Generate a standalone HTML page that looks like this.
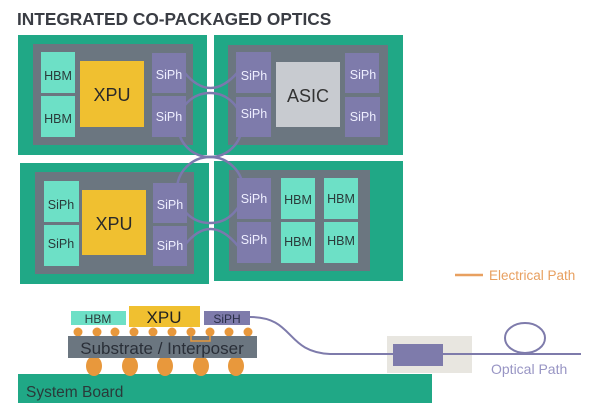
<!DOCTYPE html>
<html><head><meta charset="utf-8"><style>
body{margin:0;background:#fff;}
svg{display:block;font-family:"Liberation Sans",sans-serif;}
</style></head><body>
<svg width="607" height="403" viewBox="0 0 607 403" xmlns="http://www.w3.org/2000/svg">
<text x="17" y="25" font-size="17.3" font-weight="bold" fill="#3a3d44">INTEGRATED CO-PACKAGED OPTICS</text>
<g fill="#20a886">
<rect x="18" y="35" width="189" height="120"/>
<rect x="214" y="35" width="189" height="120"/>
<rect x="20" y="163" width="189" height="121"/>
<rect x="214" y="161" width="189" height="120"/>
</g>
<g fill="#6b7680">
<rect x="33" y="44" width="160" height="101"/>
<rect x="228" y="45" width="160" height="100"/>
<rect x="35" y="172" width="159" height="102"/>
<rect x="229" y="170" width="141" height="101"/>
</g>
<g fill="none" stroke="#7b78ad" stroke-width="2.5">
<path d="M184,72 Q210,104 238,72"/>
<circle cx="210" cy="125" r="32"/>
<circle cx="210" cy="190" r="33"/>
<path d="M184,246 Q210,212 238,246"/>
</g>
<g fill="#6de0c6">
<rect x="41" y="52" width="34" height="41"/><rect x="41" y="96" width="34" height="41"/>
<rect x="44" y="181" width="35" height="41"/><rect x="44" y="225" width="35" height="41"/>
<rect x="281" y="178" width="34" height="41"/><rect x="281" y="222" width="34" height="41"/>
<rect x="324" y="178" width="34" height="41"/><rect x="324" y="222" width="34" height="41"/>
</g>
<g fill="#7e7bab">
<rect x="152" y="53" width="34" height="40"/><rect x="152" y="96" width="34" height="41"/>
<rect x="236" y="52" width="35" height="41"/><rect x="236" y="97" width="35" height="40"/>
<rect x="345" y="53" width="34" height="40"/><rect x="345" y="97" width="35" height="40"/>
<rect x="153" y="183" width="34" height="40"/><rect x="153" y="226" width="34" height="40"/>
<rect x="237" y="178" width="34" height="41"/><rect x="237" y="222" width="34" height="41"/>
</g>
<rect x="80" y="61" width="64" height="66" fill="#f0c030"/>
<rect x="82" y="190" width="64" height="65" fill="#f0c030"/>
<rect x="276" y="62" width="64" height="65" fill="#c8cbd0"/>
<g font-size="12.5" fill="#2a3a3a" text-anchor="middle">
<text x="58" y="80">HBM</text><text x="58" y="123">HBM</text>
<text x="61" y="209">SiPh</text><text x="61" y="248">SiPh</text>
<text x="298" y="204">HBM</text><text x="298" y="246">HBM</text>
<text x="341" y="203">HBM</text><text x="341" y="245">HBM</text>
</g>
<g font-size="12.5" fill="#eef" text-anchor="middle">
<text x="169" y="79">SiPh</text><text x="169" y="121">SiPh</text>
<text x="254" y="80">SiPh</text><text x="254" y="118">SiPh</text>
<text x="363" y="79">SiPh</text><text x="363" y="121">SiPh</text>
<text x="170" y="209">SiPh</text><text x="170" y="250">SiPh</text>
<text x="254" y="203">SiPh</text><text x="254" y="244">SiPh</text>
</g>
<text x="112" y="101" font-size="18" fill="#2a2a2a" text-anchor="middle">XPU</text>
<text x="114" y="230" font-size="18" fill="#2a2a2a" text-anchor="middle">XPU</text>
<text x="308" y="102" font-size="18" fill="#333" text-anchor="middle">ASIC</text>
<line x1="455" y1="275" x2="483" y2="275" stroke="#e8a060" stroke-width="2.5"/>
<text x="489" y="280" font-size="13.5" fill="#e8a060">Electrical Path</text>
<rect x="387" y="336" width="85" height="37" fill="#e8e6e0"/>
<path d="M250,317 C295,317 285,352 330,354 L581,354" fill="none" stroke="#7e7bab" stroke-width="2"/>
<ellipse cx="525" cy="338" rx="20" ry="15" fill="none" stroke="#7e7bab" stroke-width="2"/>
<rect x="393" y="344" width="50" height="22" fill="#7e7bab"/>
<text x="491" y="374" font-size="14" fill="#9895c4">Optical Path</text>
<rect x="18" y="374" width="414" height="29" fill="#20a886"/>
<text x="26" y="397" font-size="15.5" fill="#2a3a3a">System Board</text>
<g fill="#e8983c">
<ellipse cx="94" cy="366" rx="8" ry="10"/><ellipse cx="130" cy="366" rx="8" ry="10"/>
<ellipse cx="165" cy="366" rx="8" ry="10"/><ellipse cx="201" cy="366" rx="8" ry="10"/>
<ellipse cx="236" cy="366" rx="8" ry="10"/>
<circle cx="78" cy="332" r="4.5"/><circle cx="97" cy="332" r="4.5"/><circle cx="115" cy="332" r="4.5"/>
<circle cx="134" cy="332" r="4.5"/><circle cx="153" cy="332" r="4.5"/><circle cx="172" cy="332" r="4.5"/>
<circle cx="191" cy="332" r="4.5"/><circle cx="210" cy="332" r="4.5"/><circle cx="229" cy="332" r="4.5"/>
<circle cx="248" cy="332" r="4.5"/>
</g>
<rect x="68" y="336" width="189" height="22" fill="#6b7680"/>
<path d="M191,334 L191,341 L210,341 L210,334" fill="none" stroke="#e8983c" stroke-width="1.5"/>
<text x="162" y="354" font-size="17" fill="#2a2f38" text-anchor="middle">Substrate / Interposer</text>
<rect x="71" y="311" width="55" height="14" fill="#6de0c6"/>
<rect x="129" y="306" width="71" height="21" fill="#f0c030"/>
<rect x="204" y="311" width="46" height="14" fill="#7e7bab"/>
<text x="98" y="323" font-size="12" fill="#2a3a3a" text-anchor="middle">HBM</text>
<text x="164" y="323" font-size="17" fill="#222" text-anchor="middle">XPU</text>
<text x="227" y="323" font-size="12" fill="#2a2f48" text-anchor="middle">SiPH</text>
</svg>
</body></html>
